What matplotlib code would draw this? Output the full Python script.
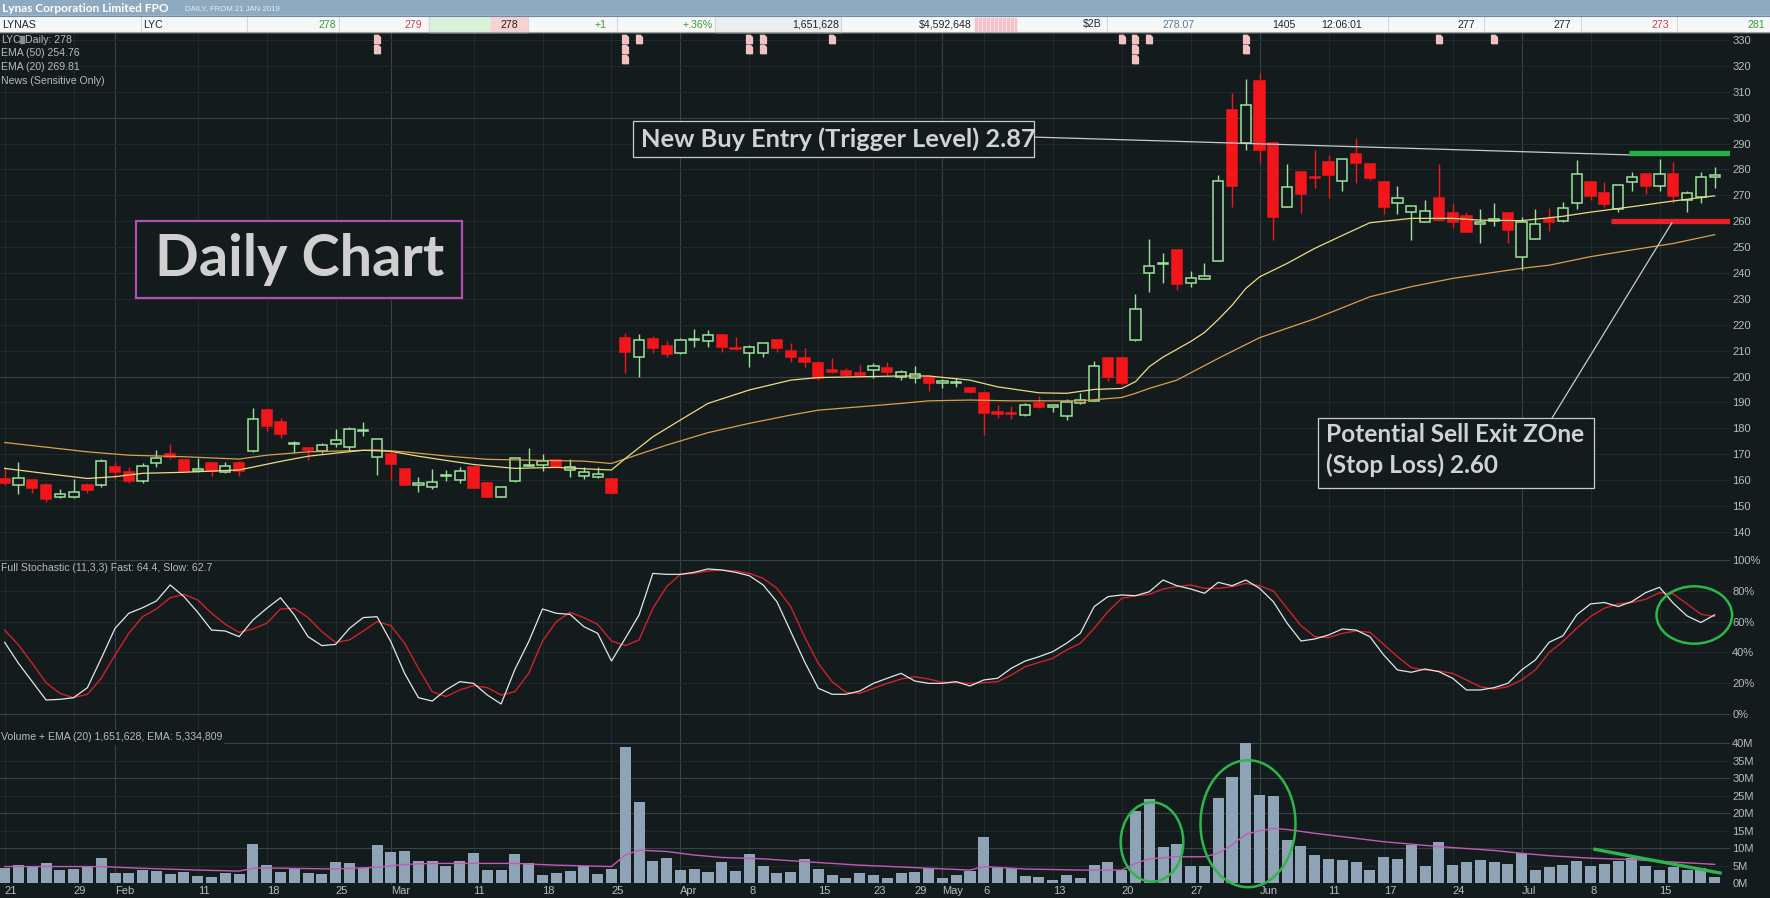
import matplotlib
matplotlib.use("Agg")
import matplotlib.pyplot as plt
from matplotlib.patches import Rectangle, Ellipse
from matplotlib.transforms import blended_transform_factory
from matplotlib.path import Path

# ---------------- data ----------------
tick_idx = [0, 5, 8, 14, 19, 24, 28, 34, 39, 44, 49, 54, 59, 63, 66, 68, 71, 76, 81, 86,
            91, 96, 100, 105, 110, 115, 120]
tick_lab = ['21', '29', 'Feb', '11', '18', '25', 'Mar', '11', '18', '25', 'Apr', '8', '15',
            '23', '29', 'May', '6', '13', '20', '27', 'Jun', '11', '17', '24', 'Jul', '8', '15']
month_idx = [8, 28, 49, 68, 91, 110]

opens = [160.4, 157.9, 160.0, 157.9, 153.3, 153.3, 157.9, 157.9, 164.9, 163.0,
         159.7, 166.4, 170.0, 167.7, 163.5, 166.4, 163.0, 166.4, 171.3, 187.0,
         182.3, 173.9, 172.2, 171.3, 173.9, 172.6, 179.0, 168.8, 170.0, 164.2,
         157.9, 157.2, 161.7, 160.2, 165.0, 158.9, 153.5, 159.7, 165.4, 165.8,
         167.7, 163.9, 161.6, 161.3, 160.5, 214.7, 207.6, 214.3, 211.8, 208.9,
         214.2, 213.8, 216.0, 211.2, 208.9, 208.9, 214.1, 209.8, 207.2, 205.1,
         202.5, 202.2, 201.2, 202.7, 203.1, 199.9, 199.3, 199.9, 197.3, 197.3,
         195.4, 193.7, 186.4, 186.0, 185.1, 189.6, 188.3, 184.7, 189.6, 190.6,
         207.2, 207.2, 214.1, 239.8, 243.6, 248.9, 236.0, 237.8, 244.7, 302.9,
         290.1, 314.3, 290.3, 265.6, 279.0, 277.2, 283.0, 275.6, 286.0, 282.1,
         275.1, 266.9, 263.7, 259.8, 268.8, 263.0, 262.0, 258.8, 259.9, 263.0,
         246.0, 253.0, 260.7, 259.9, 266.9, 275.1, 270.7, 264.7, 275.0, 278.2,
         273.7, 278.2, 268.2, 269.2, 277.0]
highs = [164.9, 167.1, 160.2, 158.7, 156.7, 160.4, 158.9, 168.0, 167.1, 164.9,
         166.4, 171.6, 173.9, 167.9, 168.6, 166.6, 167.1, 167.5, 187.7, 187.7,
         183.8, 175.1, 172.9, 174.5, 179.9, 180.6, 182.3, 175.9, 171.6, 164.4,
         161.3, 164.1, 163.9, 164.9, 165.2, 159.1, 157.4, 168.6, 172.2, 170.0,
         168.0, 168.1, 164.9, 165.1, 160.9, 216.7, 216.4, 215.5, 213.7, 215.0,
         218.2, 218.0, 216.6, 215.4, 212.2, 213.0, 214.3, 213.0, 210.9, 206.0,
         207.2, 203.1, 204.4, 205.1, 205.7, 202.5, 204.0, 200.6, 198.9, 199.3,
         195.7, 194.4, 189.0, 188.6, 189.6, 192.4, 188.8, 191.5, 193.5, 206.0,
         207.2, 207.9, 231.8, 253.0, 247.6, 248.9, 240.9, 243.7, 277.8, 309.4,
         314.9, 317.1, 290.3, 282.1, 279.0, 287.5, 285.6, 284.0, 292.0, 282.1,
         275.1, 273.6, 265.9, 268.2, 282.0, 267.1, 263.7, 264.9, 266.9, 263.0,
         261.7, 264.6, 265.0, 267.5, 283.6, 275.1, 275.1, 273.8, 279.1, 278.2,
         284.0, 283.0, 271.8, 278.9, 281.0]
lows = [158.0, 154.8, 155.1, 151.6, 153.0, 152.9, 155.1, 157.4, 160.5, 158.7,
        159.0, 164.9, 168.0, 163.3, 163.2, 161.6, 162.6, 161.6, 170.9, 179.0,
        176.1, 170.6, 167.7, 170.6, 172.9, 171.3, 177.1, 161.9, 160.0, 158.0,
        155.5, 156.5, 159.7, 158.7, 156.8, 153.3, 153.3, 159.1, 165.4, 163.6,
        164.6, 161.3, 160.4, 160.6, 154.8, 201.2, 199.7, 208.9, 207.4, 208.7,
        211.5, 211.5, 209.6, 210.2, 203.8, 207.6, 209.6, 205.7, 203.8, 198.8,
        201.2, 200.2, 199.9, 199.3, 200.6, 198.6, 197.6, 194.5, 195.4, 196.0,
        193.5, 177.4, 183.8, 183.4, 184.7, 187.7, 186.4, 183.2, 189.3, 190.4,
        198.4, 196.7, 213.8, 232.8, 236.2, 233.4, 234.7, 237.5, 244.6, 265.6,
        287.5, 282.3, 252.7, 265.6, 263.0, 272.7, 268.8, 271.8, 274.9, 275.9,
        262.6, 262.8, 252.7, 259.8, 260.4, 257.2, 256.0, 251.7, 258.3, 251.4,
        241.1, 253.0, 256.3, 259.5, 264.7, 268.2, 265.6, 263.7, 271.8, 270.5,
        271.8, 266.9, 263.7, 266.9, 273.0]
closes = [158.7, 160.6, 157.0, 152.8, 154.8, 155.2, 156.1, 167.3, 163.2, 159.7,
          165.4, 168.6, 168.8, 163.5, 164.2, 163.6, 165.3, 163.6, 183.4, 181.0,
          177.6, 174.4, 171.6, 173.4, 175.3, 179.9, 179.3, 175.7, 166.3, 158.0,
          158.7, 159.1, 162.0, 163.3, 157.0, 153.5, 157.2, 168.4, 165.8, 167.3,
          164.9, 165.1, 163.0, 162.2, 155.1, 209.6, 214.1, 210.9, 208.7, 214.1,
          214.6, 215.9, 211.5, 210.7, 211.5, 212.8, 210.9, 207.6, 205.7, 199.3,
          201.9, 200.6, 200.6, 204.0, 201.8, 201.8, 201.0, 197.6, 198.4, 197.9,
          194.1, 186.0, 185.7, 185.5, 189.0, 188.3, 188.8, 190.3, 190.9, 204.0,
          199.7, 197.3, 225.9, 242.7, 243.9, 235.7, 237.9, 238.8, 275.6, 273.6,
          304.9, 287.5, 261.7, 273.1, 270.5, 276.7, 277.8, 284.0, 282.3, 276.5,
          265.6, 268.8, 265.9, 263.8, 260.4, 259.8, 256.0, 259.8, 260.7, 256.6,
          259.8, 258.8, 259.8, 265.0, 278.1, 269.8, 266.6, 273.8, 276.9, 273.6,
          278.1, 269.8, 270.8, 276.9, 278.0]

# EMA lines (day index, price)
ema20_idx = [0, 3, 6, 8, 10, 13, 17, 18, 20, 22, 24, 26, 28, 30, 32, 34, 37, 40, 43, 44,
             45, 47, 49, 51, 54, 57, 59, 62, 65, 67, 70, 72, 75, 77, 79, 81, 82, 83, 84, 85,
             86, 87, 88, 89, 90, 91, 93, 95, 97, 99, 102, 105, 107, 110, 113, 115, 118, 121, 124]
ema20_val = [164.5, 162.5, 160.6, 161.3, 162.6, 163.0, 163.9, 165.0, 167.2, 169.2, 170.4, 171.5,
             171.1, 169.2, 167.6, 166.0, 164.5, 164.9, 164.1, 163.9,
             168.3, 176.7, 183.2, 189.6, 194.8, 198.6, 199.6, 199.9, 200.2, 200.2, 198.6, 196.0,
             193.7, 193.5, 195.0, 195.4, 198.0, 203.8, 207.5, 210.5,
             213.5, 217.0, 222.0, 227.5, 234.0, 238.5, 243.7, 249.5, 254.5, 259.4, 261.1, 261.1,
             260.4, 260.2, 261.9, 263.5, 265.6, 267.8, 269.8]
ema50_idx = [0, 6, 9, 13, 17, 19, 22, 27, 29, 32, 35, 38, 42, 44, 45, 48, 51, 54, 57, 59, 62, 65,
             67, 70, 73, 78, 81, 82, 83, 85, 88, 91, 95, 99, 102, 105, 110, 112, 115, 118, 121, 124]
ema50_val = [174.5, 170.9, 169.6, 169.0, 168.1, 169.6, 170.9, 171.6, 170.9, 169.3, 168.0, 167.7,
             167.3, 166.4, 168.2, 173.5, 178.3, 181.9, 185.1, 187.0, 188.3, 189.6, 190.6, 190.9,
             190.6, 190.6, 191.9, 193.5, 195.4, 198.6, 207.0, 215.0, 222.3, 230.8, 234.7, 237.9,
             241.8, 243.0, 246.3, 248.9, 251.4, 254.8]

# news markers: day index -> number of stacked items
news_idx = [27, 45, 46, 54, 55, 60, 81, 82, 83, 90, 104, 108]
news_cnt = [2, 3, 1, 2, 2, 1, 1, 3, 1, 2, 1, 1]

stoch_fast = [46.5, 32.9, 21.0, 9.1, 9.5, 10.6, 17.1, 36.1, 55.6, 65.4,
              69.0, 73.4, 83.8, 76.2, 66.0, 54.5, 53.9, 50.2, 61.0, 68.6,
              75.5, 64.3, 50.2, 44.4, 45.2, 55.6, 62.6, 63.2, 47.0, 26.4,
              10.6, 8.4, 15.6, 21.0, 19.9, 12.3, 6.5, 29.0, 47.0, 68.2,
              65.4, 64.7, 56.7, 52.4, 34.4, 49.1, 64.3, 91.3, 90.7, 90.7,
              92.0, 94.2, 93.5, 92.0, 89.8, 83.8, 72.9, 53.5, 34.0, 16.7,
              12.8, 12.8, 14.9, 19.9, 23.2, 26.4, 21.4, 19.9, 19.9, 21.0,
              18.2, 22.1, 23.2, 29.7, 34.4, 37.2, 40.5, 45.9, 52.4, 69.7,
              76.2, 77.3, 76.8, 79.4, 87.0, 83.3, 81.2, 78.4, 85.5, 83.3,
              87.0, 81.6, 72.9, 58.9, 47.4, 48.7, 51.3, 55.2, 54.5, 50.2,
              38.3, 28.6, 27.1, 29.2, 27.5, 23.2, 15.6, 15.6, 17.1, 19.9,
              28.6, 35.1, 46.6, 50.8, 64.4, 71.5, 72.4, 69.8, 73.0, 78.8,
              82.3, 71.9, 63.7, 59.4, 64.4]
stoch_slow = [54.5, 44.8, 32.9, 20.3, 13.4, 10.6, 12.8, 23.2, 38.3, 52.4,
              63.2, 68.2, 75.5, 77.7, 74.0, 65.4, 58.2, 53.0, 55.2, 58.9,
              68.2, 68.6, 62.6, 53.5, 46.5, 48.1, 53.9, 60.0, 57.4, 45.9,
              29.7, 14.5, 11.3, 15.6, 18.4, 17.1, 12.3, 14.5, 26.4, 47.4,
              60.0, 66.0, 62.6, 58.2, 47.4, 44.4, 48.1, 68.6, 82.7, 90.7,
              91.3, 92.9, 93.5, 92.9, 91.3, 88.1, 81.6, 69.7, 50.2, 32.9,
              21.0, 14.1, 13.4, 16.7, 19.9, 22.7, 24.2, 22.7, 20.6, 20.3,
              19.9, 20.3, 21.0, 25.3, 30.7, 33.5, 36.1, 41.6, 45.9, 55.6,
              66.5, 75.1, 76.8, 77.7, 81.2, 82.7, 83.8, 81.6, 81.6, 82.7,
              84.8, 83.3, 79.9, 68.6, 57.4, 50.2, 49.6, 52.4, 53.9, 53.0,
              45.2, 37.2, 30.1, 28.6, 27.9, 26.4, 22.1, 17.7, 16.2, 17.7,
              22.1, 28.6, 40.0, 47.1, 55.7, 63.3, 68.7, 71.5, 72.4, 74.5,
              78.8, 77.9, 71.5, 64.8, 63.3]

volume_m = [4.4, 5.1, 4.9, 5.6, 3.7, 4.0, 4.5, 7.2, 2.9, 2.9,
            3.8, 3.4, 2.6, 3.2, 2.0, 1.7, 2.9, 2.6, 11.1, 5.1,
            3.2, 4.2, 2.9, 2.6, 6.1, 5.7, 4.2, 10.9, 9.0, 9.2,
            6.3, 6.3, 5.0, 6.3, 8.7, 3.8, 3.8, 8.3, 5.6, 2.3,
            2.9, 3.5, 5.0, 2.6, 4.0, 38.9, 23.1, 6.3, 7.2, 3.7,
            4.0, 3.2, 6.1, 3.5, 8.3, 4.9, 2.9, 3.2, 6.9, 4.0,
            2.3, 1.4, 2.9, 2.3, 1.4, 2.9, 3.2, 4.2, 1.4, 2.3,
            3.5, 13.1, 4.4, 4.4, 2.0, 1.7, 0.9, 2.3, 1.4, 5.1,
            6.1, 3.8, 20.7, 24.0, 10.3, 11.2, 4.9, 4.9, 24.3, 30.4,
            39.9, 25.1, 24.9, 12.3, 10.6, 8.0, 6.9, 6.6, 6.1, 3.8,
            7.5, 6.9, 10.9, 5.0, 11.8, 5.2, 6.1, 6.6, 6.1, 5.5,
            8.5, 3.8, 4.5, 5.2, 6.4, 5.0, 5.5, 6.2, 7.1, 5.0,
            3.8, 4.5, 3.6, 4.2, 1.65]
vol_ema_idx = [0, 7, 10, 14, 17, 18, 19, 24, 27, 29, 31, 37, 40, 44, 45, 46, 48, 50, 52, 55, 58,
               62, 66, 70, 71, 74, 78, 81, 82, 83, 85, 87, 88, 89, 90, 91, 92, 93, 95, 100,
               104, 108, 110, 112, 115, 118, 120, 124]
vol_ema_val = [4.7, 4.7, 4.2, 3.7, 3.4, 4.2, 4.3, 4.0, 4.5, 5.3, 5.6, 5.6, 5.1, 4.7, 8.0, 9.4,
               9.0, 8.0, 7.3, 6.9, 6.1, 5.1, 4.4, 3.7, 4.7, 4.0, 3.7, 3.7, 5.6, 6.9, 7.5, 7.5,
               8.5, 10.9, 13.9, 14.9, 15.6, 15.3, 14.2, 11.8, 10.4, 9.3, 8.5, 7.8, 7.1, 6.7,
               6.2, 5.33]

trigger_level = 286.3
stop_level = 260.0
trigger_line_idx = [74.6, 117.9]
trigger_line_val = [292.5, 285.6]
stop_pointer_idx = [112.2, 120.9]
stop_pointer_val = [183.9, 259.4]

# ---------------- style ----------------
W, H = 1770, 898
BG = "#131b1d"
GRID_F = "#20292b"
GRID_M = "#384244"
TXT = "#b4bebe"
GREEN = "#9be39b"
RED = "#f2161b"
FONT = "Liberation Sans"

fig = plt.figure(figsize=(W / 100, H / 100), dpi=100, facecolor=BG)

XMIN = -4.7 / 13.79
XMAX = (1730 - 4.7) / 13.79


def fy(py):
    return 1 - py / H


ax_p = fig.add_axes([0, fy(552), 1730 / W, 520 / H])
ax_s = fig.add_axes([0, fy(728), 1730 / W, 176 / H])
ax_v = fig.add_axes([0, fy(885), 1730 / W, 157 / H])
for a in (ax_p, ax_s, ax_v):
    a.set_facecolor(BG)
    a.set_xlim(XMIN, XMAX)
    for sp in a.spines.values():
        sp.set_visible(False)
    a.yaxis.tick_right()
    a.tick_params(axis='both', length=0, labelcolor=TXT, labelsize=8, pad=1.6)
    for t in tick_idx:
        a.axvline(t, color=GRID_M if t in month_idx else GRID_F, lw=0.8, zorder=0)

ax_p.set_ylim(132.2, 333.09)
ax_s.set_ylim(-9.1, 105.2)
ax_v.set_ylim(-0.57, 44.3)

for p in range(140, 331, 10):
    ax_p.axhline(p, color=GRID_M if p in (200, 300) else GRID_F, lw=0.8, zorder=0)
for s in range(0, 101, 20):
    ax_s.axhline(s, color=GRID_M if s in (0, 100) else GRID_F, lw=0.8, zorder=0)
for v in range(5, 41, 5):
    ax_v.axhline(v, color=GRID_M if v % 10 == 0 else GRID_F, lw=0.8, zorder=0)

ax_p.set_yticks(range(140, 331, 10))
ax_p.set_yticklabels([str(p) for p in range(140, 331, 10)], family=FONT)
ax_s.set_yticks(range(0, 101, 20))
ax_s.set_yticklabels([f"{s}%" for s in range(0, 101, 20)], family=FONT)
ax_v.set_yticks(range(0, 41, 5))
ax_v.set_yticklabels([f"{v}M" for v in range(0, 41, 5)], family=FONT)
ax_p.set_xticks([])
ax_s.set_xticks([])
ax_v.set_xticks(tick_idx)
ax_v.set_xticklabels(tick_lab, family=FONT)
ax_v.tick_params(axis='x', pad=1.0)
for lab in ax_v.get_xticklabels():
    lab.set_ha('left')

# ---------------- candles ----------------
n = len(closes)
days = list(range(n))
for i in days:
    o, h, l, c = opens[i], highs[i], lows[i], closes[i]
    up = c >= o
    col = GREEN if up else RED
    ax_p.vlines(i, l, h, color=col, lw=1.0, zorder=2)
    bot = min(o, c)
    hgt = max(abs(c - o), 0.25)
    ax_p.add_patch(Rectangle((i - 0.37, bot), 0.74, hgt,
                             facecolor=BG if up else RED, edgecolor=col,
                             lw=1.1, zorder=3))

ax_p.plot(ema50_idx, ema50_val, color="#d9a04e", lw=0.9, zorder=4)
ax_p.plot(ema20_idx, ema20_val, color="#ecdc86", lw=0.9, zorder=4)

# news markers
doc = Path([(-0.35, -0.5), (0.35, -0.5), (0.35, 0.25), (0.1, 0.5), (-0.35, 0.5), (-0.35, -0.5)])
btr = blended_transform_factory(ax_p.transData, ax_p.transAxes)
row_y = [0.9865, 0.967, 0.948]
for i, cnt in zip(news_idx, news_cnt):
    for k in range(cnt):
        ax_p.plot(i, row_y[k], marker=doc, markersize=6.0, color="#f2c2c2",
                  transform=btr, zorder=5, clip_on=False)

# trigger / stop lines
ax_p.plot(trigger_line_idx, trigger_line_val, color="#c8cccc", lw=0.9, zorder=5)
ax_p.plot([117.8, XMAX], [trigger_level, trigger_level], color="#22b14c", lw=3.8,
          zorder=5, solid_capstyle='butt')
ax_p.plot([116.5, XMAX], [stop_level, stop_level], color="#ea1f28", lw=3.8,
          zorder=5, solid_capstyle='butt')
ax_p.plot(stop_pointer_idx, stop_pointer_val, color="#c8cccc", lw=0.9, zorder=5)

# ---------------- stochastic ----------------
ax_s.plot(days, stoch_slow, color="#d0222a", lw=1.0, zorder=3)
ax_s.plot(days, stoch_fast, color="#e4e6e6", lw=0.9, zorder=4)

# ---------------- volume ----------------
ax_v.bar(days, volume_m, width=0.8, color="#8ea3b5", zorder=2)
ax_v.plot(vol_ema_idx, vol_ema_val, color="#c45ab8", lw=1.0, zorder=3)

# ---------------- overlay (pixel coords) ----------------
ov = fig.add_axes([0, 0, 1, 1])
ov.set_xlim(0, W)
ov.set_ylim(H, 0)
ov.axis('off')
ov.patch.set_alpha(0)

# header
ov.add_patch(Rectangle((0, 0), W, 16, color="#8eaac0", zorder=1))
ov.add_patch(Rectangle((0, 16), W, 16, color="#f6f7f7", zorder=1))
ov.plot([0, W], [16, 16], color="#6f8aa0", lw=0.8, zorder=2)
ov.plot([0, W], [32, 32], color="#9aa4a8", lw=0.8, zorder=2)
ov.text(2, 8.5, "Lynas Corporation Limited FPO", color="white", fontsize=8.6,
        family="Lato", weight="bold", va="center", zorder=3)
ov.text(185, 9, "DAILY, FROM 21 JAN 2019", color="#e8eef3", fontsize=5.6,
        family=FONT, va="center", zorder=3)
ov.add_patch(Rectangle((429, 17), 62, 15, color="#daf1da", zorder=1.5))
ov.add_patch(Rectangle((491, 17), 36, 15, color="#f7d2d4", zorder=1.5))
ov.add_patch(Rectangle((715, 17), 126, 15, color="#eeeeee", zorder=1.5))
ov.add_patch(Rectangle((975, 18), 41, 13, color="#f4c2c8", zorder=1.5))
for xx in range(978, 1016, 4):
    ov.plot([xx, xx], [18, 31], color="#fbe4e6", lw=0.6, zorder=1.6)
for xs in [141, 247, 339, 429, 528, 617, 715, 841, 1107, 1388, 1484, 1581, 1677]:
    ov.plot([xs, xs], [17, 32], color="#d4d8d8", lw=0.8, zorder=1.7)
row = [("LYNAS", 2, 'left', "#222222"), ("LYC", 143, 'left', "#222222"),
       ("278", 336, 'right', "#3d9a3d"), ("279", 422, 'right', "#c2435a"),
       ("278", 518, 'right', "#222222"), ("+1", 607, 'right', "#3d9a3d"),
       ("+.36%", 713, 'right', "#3d9a3d"), ("1,651,628", 839, 'right', "#222222"),
       ("$4,592,648", 972, 'right', "#222222"), ("$2B", 1102, 'right', "#222222"),
       ("278.07", 1195, 'right', "#5b7a98"), ("1405", 1296, 'right', "#222222"),
       ("12:06:01", 1362, 'right', "#222222"), ("277", 1475, 'right', "#222222"),
       ("277", 1571, 'right', "#222222"), ("273", 1669, 'right', "#c2435a"),
       ("281", 1765, 'right', "#3d9a3d")]
for s, xx, ha, c in row:
    ov.text(xx, 24.5, s, ha=ha, va="center", color=c, fontsize=7.6, family=FONT, zorder=3)

# panel legends
ov.text(1, 40, "LYC", color=TXT, fontsize=7.6, family=FONT, va="center")
ov.add_patch(Rectangle((20, 36), 3.5, 7, color="#8a9090"))
ov.text(25, 40, "Daily: 278", color=TXT, fontsize=7.6, family=FONT, va="center")
ov.text(1, 53.5, "EMA (50) 254.76", color=TXT, fontsize=7.6, family=FONT, va="center")
ov.text(1, 67, "EMA (20) 269.81", color=TXT, fontsize=7.6, family=FONT, va="center")
ov.text(1, 80.5, "News (Sensitive Only)", color=TXT, fontsize=7.6, family=FONT, va="center")
ov.text(1, 568, "Full Stochastic (11,3,3) Fast: 64.4, Slow: 62.7", color=TXT,
        fontsize=7.6, family=FONT, va="center")
ov.text(1, 737.5, "Volume + EMA (20) 1,651,628, EMA: 5,334,809", color=TXT,
        fontsize=7.6, family=FONT, va="center",
        bbox=dict(facecolor=BG, edgecolor='none', pad=1.5))

# annotation boxes
ov.add_patch(Rectangle((135.5, 221), 326.5, 77, facecolor=BG, edgecolor="#b24fb4", lw=1.6,
                       zorder=6))
ov.text(300, 260, "Daily Chart", color="#d0d0d0", fontsize=41.5, family="Lato", weight="bold",
        ha="center", va="center", zorder=7)
ov.add_patch(Rectangle((633, 120.7), 400.6, 36, facecolor=BG, edgecolor="#c8cccc", lw=0.9,
                       zorder=6))
ov.text(641, 139, "New Buy Entry (Trigger Level) 2.87", color="#d2d2d2", fontsize=18.3,
        family="Lato", weight="bold", ha="left", va="center", zorder=7)
ov.add_patch(Rectangle((1317.5, 418), 276.5, 70, facecolor=BG, edgecolor="#c8cccc", lw=0.9,
                       zorder=6))
ov.text(1326.5, 434, "Potential Sell Exit ZOne", color="#d2d2d2", fontsize=17.6,
        family="Lato", weight="bold", ha="left", va="center", zorder=7)
ov.text(1326.5, 465, "(Stop Loss) 2.60", color="#d2d2d2", fontsize=17.6,
        family="Lato", weight="bold", ha="left", va="center", zorder=7)

# green highlight ellipses and trend line
EG = "#2db64b"
ov.add_patch(Ellipse((1694.3, 615), 75.6, 57.4, fill=False, edgecolor=EG, lw=1.8, zorder=6))
ov.add_patch(Ellipse((1152, 842), 62.6, 79.4, fill=False, edgecolor=EG, lw=1.8, zorder=6))
ov.add_patch(Ellipse((1248, 823.7), 95, 127, fill=False, edgecolor=EG, lw=1.8, zorder=6))
ov.plot([1593.3, 1721.7], [849, 873.3], color=EG, lw=2.4, zorder=6, solid_capstyle='butt')

fig.savefig("out.png", dpi=100, facecolor=BG)
